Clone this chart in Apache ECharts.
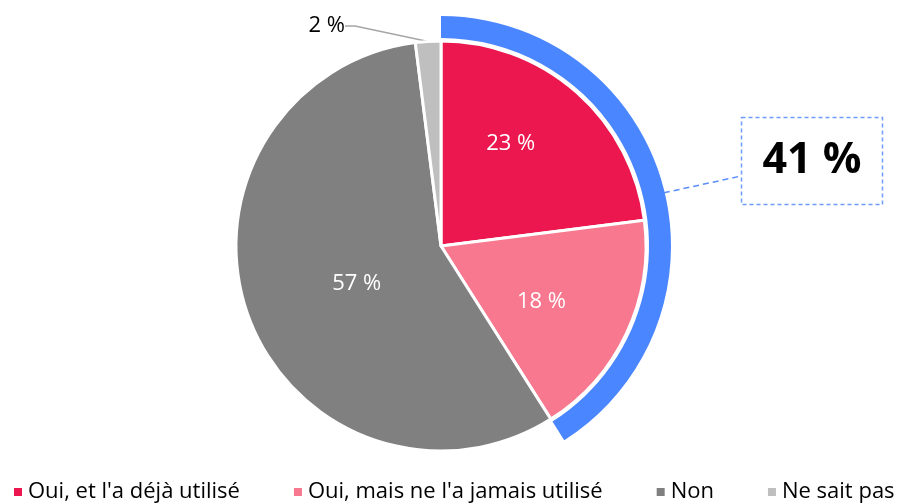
<!DOCTYPE html>
<html><head><meta charset="utf-8">
<script src="https://cdn.jsdelivr.net/npm/echarts@6/dist/echarts.min.js"></script>
<style>html,body{margin:0;padding:0;background:#fff}#c{width:901px;height:504px}</style>
</head><body><div id="c"></div>
<script>
const categories = ["Oui, et l'a déjà utilisé", "Oui, mais ne l'a jamais utilisé", "Non", "Ne sait pas"];
const values = [23, 18, 57, 2];
const colors = ["#EB174E", "#F7788F", "#808080", "#BFBFBF"];
const totalOuiLabel = "41 %";
const totalOui = values[0] + values[1];

const FONT = "Open Sans";
const labelShift = [[0, -23], [5, 11], [15, 2], [0, 0]];

const chart = echarts.init(document.getElementById('c'), null, {renderer: 'canvas'});
chart.setOption({
  animation: false,
  textStyle: {fontFamily: FONT},
  legend: {
    data: categories,
    top: 476,
    left: 7,
    icon: 'rect',
    itemWidth: 10,
    itemHeight: 10,
    itemGap: 52,
    textStyle: {fontSize: 22, color: '#000', fontFamily: FONT}
  },
  series: [
    {
      type: 'pie',
      center: [441, 246],
      radius: [0, 205],
      startAngle: 90,
      clockwise: true,
      itemStyle: {borderColor: '#fff', borderWidth: 3},
      label: {
        show: true,
        position: 'inside',
        color: '#fff',
        fontSize: 22,
        fontFamily: FONT,
        formatter: p => p.value + ' %'
      },
      labelLayout: function (p) {
        if (p.dataIndex === 3) {
          return {x: 345, y: 26, align: 'right', verticalAlign: 'middle'};
        }
        const s = labelShift[p.dataIndex];
        return {dx: s[0], dy: s[1]};
      },
      data: categories.map((c, i) => {
        const d = {name: c, value: values[i], itemStyle: {color: colors[i]}};
        if (i === 3) {
          d.label = {position: 'outside', color: '#000'};
          d.labelLine = {show: true, length: 10, length2: 10, lineStyle: {color: '#A6A6A6', width: 1.5}};
        }
        return d;
      })
    },
    {
      type: 'pie',
      center: [441, 246],
      radius: [208, 230],
      startAngle: 90,
      clockwise: true,
      silent: true,
      label: {show: false},
      labelLine: {show: false},
      labelLayout: function (p) {
        if (p.dataIndex === 0) {
          const p0 = p.labelLinePoints ? p.labelLinePoints[0] : [662, 182];
          const start = [p0[0] + 2, p0[1] + 11];
          const end = [741, 176];
          return {x: 812, y: 161, align: 'center', verticalAlign: 'middle',
                  labelLinePoints: [start, end, end]};
        }
      },
      data: [
        {
          name: 'Oui (total)', value: totalOui,
          itemStyle: {color: '#4A86FF'},
          label: {
            show: true, position: 'outside', formatter: totalOuiLabel,
            fontSize: 43, fontWeight: 'bold', color: '#000', fontFamily: FONT,
            borderColor: '#6E9CF8', borderType: [4, 3], borderWidth: 1.5,
            width: 141, height: 87, lineHeight: 87, align: 'center', verticalAlign: 'middle',
            padding: 0
          },
          labelLine: {show: true, length: 10, length2: 10, lineStyle: {color: '#5B8EF7', type: [6, 4], width: 1.5}}
        },
        {name: 'rest', value: 100 - totalOui, itemStyle: {color: 'rgba(0,0,0,0)'}}
      ]
    }
  ]
});
</script></body></html>
